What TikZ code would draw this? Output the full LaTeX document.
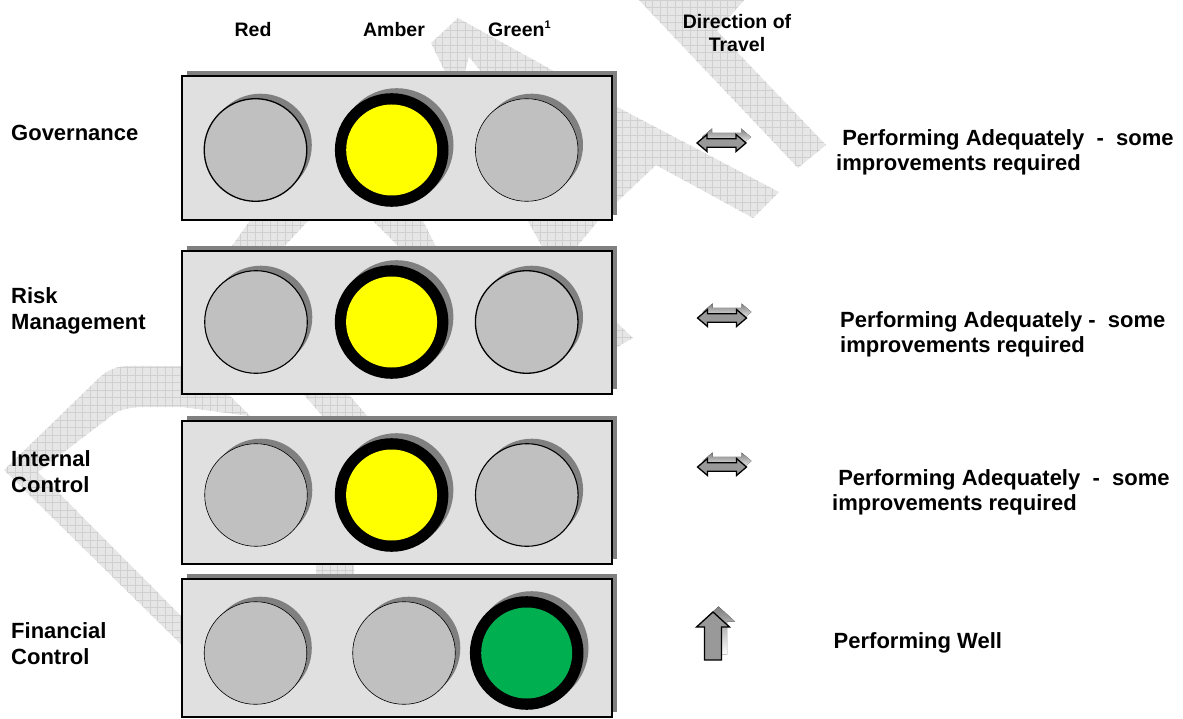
\documentclass[tikz,border=0pt]{standalone}
\usepackage{fontspec}
\setmainfont{Liberation Sans}
\usetikzlibrary{shadows}

\definecolor{panelgrey}{HTML}{E0E0E0}
\definecolor{shade}{HTML}{808080}
\definecolor{lampoff}{HTML}{C0C0C0}
\definecolor{amberlit}{HTML}{FFFF00}
\definecolor{greenlit}{HTML}{00B050}
\definecolor{arrowgrey}{HTML}{999999}
\definecolor{wmfill}{HTML}{E6E6E6}
\definecolor{wmline}{HTML}{D0D0D0}

\tikzset{
  panelbox/.style={draw=black, line width=1.6pt, fill=panelgrey, inner sep=0pt,
    minimum width=430pt,
    drop shadow={shadow xshift=5pt, shadow yshift=5pt, opacity=1, fill=shade}},
  lampshadow/.style={drop shadow={shadow xshift=5pt, shadow yshift=5pt, opacity=1, fill=shade}},
  offlamp/.style={circle, inner sep=0pt, minimum size=102.6pt, fill=lampoff,
    draw=black, line width=#1, lampshadow},
  offlamp/.default=1.1pt,
  litlamp/.style={circle, inner sep=0pt, minimum size=113.6pt, fill=black, lampshadow,
    path picture={\fill[#1] (path picture bounding box.center) circle (45.5);}},
  rowlabel/.style={anchor=base west, inner sep=0pt, font=\fontsize{22}{26}\selectfont\bfseries},
  colhead/.style={anchor=base, inner sep=0pt, font=\fontsize{19.5}{23}\selectfont\bfseries},
  status/.style={anchor=base west, inner sep=0pt, font=\fontsize{22}{25}\selectfont\bfseries},
  arrowbody/.style={fill=arrowgrey, draw=black, line width=1.3pt, line join=miter},
  twoway/.pic={
    \fill[shade, shift={(5,-6)}] (-24.5,0) -- (-14.5,-8.5) -- (-14.5,-4.2) -- (14.5,-4.2)
      -- (14.5,-8.5) -- (24.5,0) -- (14.5,8.5) -- (14.5,4.2) -- (-14.5,4.2) -- (-14.5,8.5) -- cycle;
    \path[arrowbody] (-24.5,0) -- (-14.5,-8.5) -- (-14.5,-4.2) -- (14.5,-4.2)
      -- (14.5,-8.5) -- (24.5,0) -- (14.5,8.5) -- (14.5,4.2) -- (-14.5,4.2) -- (-14.5,8.5) -- cycle;
  },
  upward/.pic={
    \fill[shade, shift={(5.5,-5.5)}] (0,-24) -- (16.5,-9) -- (8.5,-9) -- (8.5,24)
      -- (-8.5,24) -- (-8.5,-9) -- (-16.5,-9) -- cycle;
    \path[arrowbody] (0,-24) -- (16.5,-9) -- (8.5,-9) -- (8.5,24)
      -- (-8.5,24) -- (-8.5,-9) -- (-16.5,-9) -- cycle;
  },
}

\begin{document}
\begin{tikzpicture}[x=1pt, y=-1pt]
\useasboundingbox (0,0) rectangle (1183,719);

% --- hatched "DRAFT" watermark, only the parts left uncovered by the panels ---
\begin{scope}
  \clip
    (431,43) -- (458,18) -- (570,80) -- (449,80) -- cycle
    (637,-2) -- (798,168) -- (826,145) -- (717,31) -- (746,-2) -- cycle
    (600,98) -- (779,192) -- (753,218) -- (656,165) -- (600,218) -- cycle
    (254,215) -- (313.5,215) -- (281,250) -- (229,250) -- cycle
    (367,215) -- (420,215) -- (437.5,250) -- (402,250) -- cycle
    (524.5,215) -- (603,215) -- (574,250) -- (544,250) -- cycle
    (612,318) -- (633,338) -- (612,350) -- cycle
    (316,560) -- (354,560) -- (354,578) -- (316,578) -- cycle
    (300,390) -- (345,390) -- (375,425) -- (330,425) -- cycle
    (205,668) -- (4,470) -- (100,377) .. controls (115,364) and (125,366) .. (150,366)
      -- (200,366) -- (262,428) -- (249,416) -- (182,407) -- (145,407)
      .. controls (130,407) and (120,410) .. (115,413) -- (38,472) -- (200,635) -- cycle;
  \fill[wmfill] (0,0) rectangle (1183,719);
  \foreach \g in {0,7.5,...,1185} \draw[wmline, line width=0.5pt] (\g,0) -- (\g,719);
  \foreach \g in {0,7.5,...,720} \draw[wmline, line width=0.5pt] (0,\g) -- (1183,\g);
\end{scope}
\fill[white] (469,57) -- (481,72) -- (465,72) -- cycle;

% --- column headings ---
\node[colhead] (hred) at (253,37) {Red};
\node[colhead] (hamber) at (394,37) {Amber};
\node[colhead, anchor=base west] (hgreen) at (488,37) {Green\raisebox{8pt}{\fontsize{11}{11}\selectfont 1}};
\node[colhead] (hdir) at (737,29) {\begin{tabular}[t]{@{}c@{}}Direction of\\Travel\end{tabular}};

% --- panels ---
\node[panelbox, minimum height=144pt] (p1) at (397,148) {};
\node[panelbox, minimum height=143pt] (p2) at (397,322.5) {};
\node[panelbox, minimum height=143pt] (p3) at (397,492.5) {};
\node[panelbox, minimum height=138pt] (p4) at (397,648) {};

% --- lamps ---
\node[offlamp=1.3pt] (l1r) at (255.5,150) {};
\node[litlamp=amberlit] (l1a) at (391.7,150) {};
\node[offlamp=0.6pt] (l1g) at (526.7,150) {};

\node[offlamp=1.1pt] (l2r) at (256,322) {};
\node[litlamp=amberlit] (l2a) at (391.6,322) {};
\node[offlamp=1.3pt] (l2g) at (526.7,322) {};

\node[offlamp=0.6pt] (l3r) at (256,495) {};
\node[litlamp=amberlit] (l3a) at (391.6,495) {};
\node[offlamp=1.1pt] (l3g) at (526.8,495) {};

\node[offlamp=0.6pt] (l4r) at (255.5,653) {};
\node[offlamp=0.6pt] (l4a) at (404,653) {};
\node[litlamp=greenlit] (l4g) at (526.7,653) {};

% --- row labels ---
\node[rowlabel] (gov) at (11,141) {Governance};
\node[rowlabel] (risk) at (11,303) {\begin{tabular}[t]{@{}l@{}}Risk\\Management\end{tabular}};
\node[rowlabel] (ictl) at (11,466) {\begin{tabular}[t]{@{}l@{}}Internal\\Control\end{tabular}};
\node[rowlabel] (fctl) at (11,638) {\begin{tabular}[t]{@{}l@{}}Financial\\Control\end{tabular}};

% --- direction of travel ---
\pic (d1) at (721.5,143) {twoway};
\pic (d2) at (722,318) {twoway};
\pic (d3) at (722,467) {twoway};
\pic (d4) at (713,636) {upward};

% --- status texts ---
\node[status] (s1) at (836,146) {\begin{tabular}[t]{@{}l@{}}\ Performing Adequately\ \ -\ \ some\\improvements required\end{tabular}};
\node[status] (s2) at (840,327) {\begin{tabular}[t]{@{}l@{}}Performing Adequately -\ \ some\\improvements required\end{tabular}};
\node[status] (s3) at (832,485) {\begin{tabular}[t]{@{}l@{}}\ Performing Adequately\ \ -\ \ some\\improvements required\end{tabular}};
\node[status] (s4) at (833.5,648) {Performing Well};
\end{tikzpicture}
\end{document}
